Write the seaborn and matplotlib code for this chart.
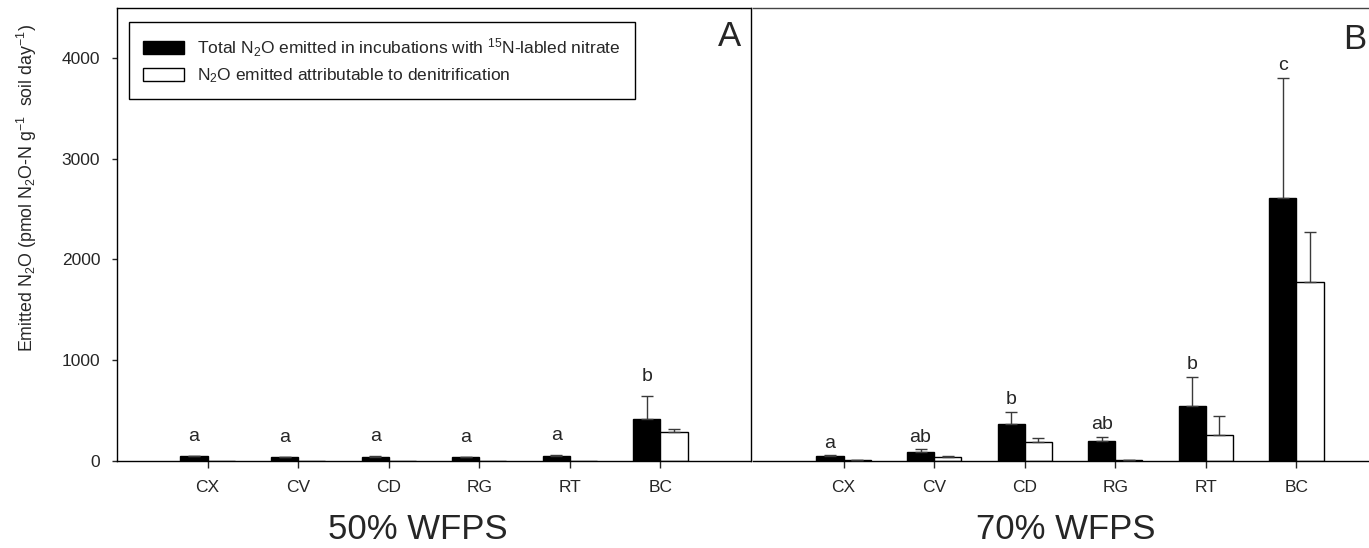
import numpy as np
import pandas as pd
import matplotlib
matplotlib.use("Agg")
import matplotlib.pyplot as plt
from matplotlib.patches import Patch
import seaborn as sns

# ---------------- data ----------------
sites = ["CX", "CV", "CD", "RG", "RT", "BC"]
series_names = ["total", "denit"]

a_total = [45, 35, 40, 37, 53, 417]
a_total_err = [6, 5, 5, 5, 6, 231]
a_denit = [0, 0, 0, 0, 0, 285]
a_denit_err = [0, 0, 0, 0, 0, 30]
a_letters = ["a", "a", "a", "a", "a", "b"]

b_total = [53, 89, 367, 198, 546, 2612]
b_total_err = [5, 27, 122, 43, 291, 1194]
b_denit = [8, 43, 192, 10, 255, 1776]
b_denit_err = [2, 7, 39, 3, 192, 493]
b_letters = ["a", "ab", "b", "ab", "b", "c"]

yticks = [0, 1000, 2000, 3000, 4000]
legend_labels = [
    r"Total N$\mathregular{_2}$O emitted in incubations with $\mathregular{^{15}}$N-labled nitrate",
    r"N$\mathregular{_2}$O emitted attributable to denitrification",
]
ylabel = r"Emitted N$\mathregular{_2}$O (pmol N$\mathregular{_2}$O-N g$\mathregular{^{-1}}$  soil day$\mathregular{^{-1}}$)"
panel_titles = ["50% WFPS", "70% WFPS"]
panel_letters = ["A", "B"]

# ---------------- style ----------------
sns.set_style("ticks")
plt.rcParams["font.family"] = ["Liberation Sans", "DejaVu Sans"]
plt.rcParams["mathtext.fontset"] = "custom"
plt.rcParams["mathtext.rm"] = "Liberation Sans"

W, H = 1369, 548
fig = plt.figure(figsize=(W / 100, H / 100), dpi=100)

def px_axes(left, top, right, bottom):
    return [left / W, 1 - bottom / H, (right - left) / W, (bottom - top) / H]

axA = fig.add_axes(px_axes(117, 7.6, 751, 461))
axB = fig.add_axes(px_axes(753, 7.6, 1387, 461))

colors = {"total": "black", "denit": "white"}

def draw_panel(ax, total, total_err, denit, denit_err, letters, letter_off):
    df = pd.DataFrame({
        "site": sites * 2,
        "series": ["total"] * len(sites) + ["denit"] * len(sites),
        "value": list(total) + list(denit),
    })
    sns.barplot(data=df, x="site", y="value", hue="series", order=sites,
                hue_order=series_names, palette=colors, saturation=1,
                edgecolor="black", linewidth=1.0, width=0.6, errorbar=None,
                legend=False, ax=ax)
    errs = [total_err, denit_err]
    for cont, err in zip(ax.containers, errs):
        for bar, e in zip(cont, err):
            if e <= 0:
                continue
            x = bar.get_x() + bar.get_width() / 2
            h = bar.get_height()
            ax.errorbar([x], [h], yerr=[[0], [e]], fmt="none", ecolor="#3a3a3a",
                        elinewidth=1.0, capsize=4.3, capthick=1.0, zorder=3)
    for bar, e, lab in zip(ax.containers[0], total_err, letters):
        x = bar.get_x() + bar.get_width() / 2
        h = bar.get_height() + e
        ax.annotate(lab, (x, h), xytext=(0, letter_off), textcoords="offset points",
                    ha="center", va="bottom", fontsize=14)
    ax.set_xlim(-1, 6)
    ax.set_ylim(0, 4500)
    ax.set_xlabel("")
    ax.set_ylabel("")
    ax.tick_params(axis="x", length=5, width=1, pad=8.5, labelsize=12.5, direction="out")
    for s in ax.spines.values():
        s.set_linewidth(1.0)
        s.set_color("black")

draw_panel(axA, a_total, a_total_err, a_denit, a_denit_err, a_letters, 8)
draw_panel(axB, b_total, b_total_err, b_denit, b_denit_err, b_letters, 2.5)

axA.set_yticks(yticks)
axA.tick_params(axis="y", length=3.6, width=1, pad=8.5, labelsize=12.5)
axB.set_yticks([])
axB.spines["left"].set_visible(False)
axB.spines["right"].set_visible(False)
axB.spines["top"].set_color("#444444")

# legend
handles = [Patch(facecolor="black", edgecolor="black", linewidth=1.0),
           Patch(facecolor="white", edgecolor="black", linewidth=1.0)]
leg = axA.legend(handles, legend_labels, loc="upper left",
                 bbox_to_anchor=(129.3 / W, 1 - 22.3 / H), bbox_transform=fig.transFigure,
                 borderaxespad=0, fontsize=12.5, frameon=True, fancybox=False,
                 edgecolor="black", framealpha=1, handlelength=2.36, handleheight=0.75,
                 handletextpad=0.75, borderpad=0.8, labelspacing=0.45)
leg.get_frame().set_linewidth(1.0)

# texts
fig.text(27 / W, 1 - 188 / H, ylabel, rotation=90, ha="center", va="center", fontsize=12.8)
fig.text(418 / W, 1 - 529.5 / H, panel_titles[0], ha="center", va="center", fontsize=25)
fig.text(1066 / W, 1 - 529.5 / H, panel_titles[1], ha="center", va="center", fontsize=25)
fig.text(729 / W, 1 - 36 / H, panel_letters[0], ha="center", va="center", fontsize=25)
fig.text(1355 / W, 1 - 39.5 / H, panel_letters[1], ha="center", va="center", fontsize=25)

fig.savefig("out.png", dpi=100)
